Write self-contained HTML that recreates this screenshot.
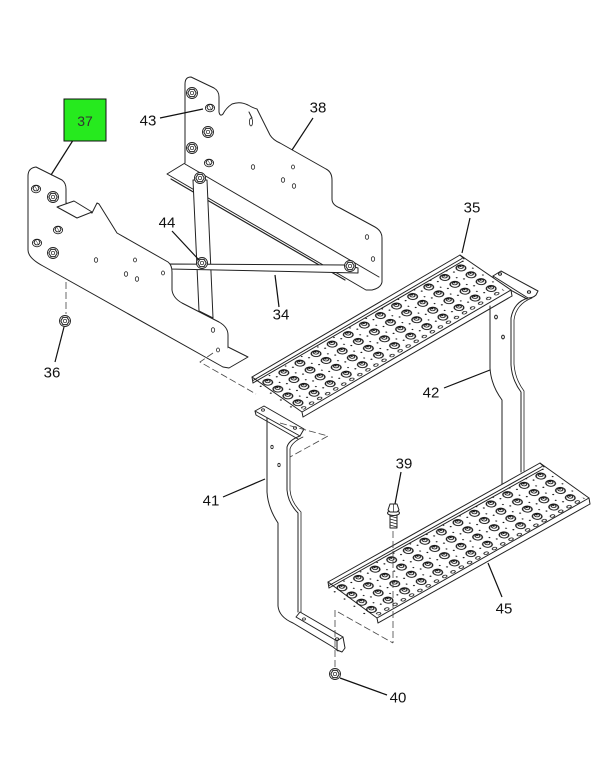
<!DOCTYPE html>
<html>
<head>
<meta charset="utf-8">
<style>
html,body{margin:0;padding:0;background:#fff;}
svg{display:block;}
text{font-family:"Liberation Sans",Arial,sans-serif;}
</style>
</head>
<body>
<svg width="610" height="761" viewBox="0 0 610 761" xmlns="http://www.w3.org/2000/svg">
<defs>
  <g id="nut">
    <circle r="5.5" fill="#fff" stroke="#222" stroke-width="0.9"/>
    <polygon points="-4.2,0 -2.1,-3.6 2.1,-3.6 4.2,0 2.1,3.6 -2.1,3.6" fill="none" stroke="#222" stroke-width="1"/>
    <circle r="1.7" fill="none" stroke="#222" stroke-width="0.7"/>
  </g>
  <g id="bolt">
    <ellipse rx="4.6" ry="3.8" fill="#fff" stroke="#222" stroke-width="0.9"/>
    <polygon points="-3,-0.5 -1.5,-3.5 1.5,-3.5 3,-0.5 1.5,1.8 -1.5,1.8" fill="#fff" stroke="#222" stroke-width="0.9"/>
    <line x1="-1.5" y1="-3.5" x2="1.5" y2="1.8" stroke="#222" stroke-width="0.5"/>
  </g>
  <pattern id="p1" patternUnits="userSpaceOnUse" x="-3.35" y="6.7" width="18.7" height="12.2">
    <circle cx="9.35" cy="6.1" r="4.0" fill="#fff" stroke="#111" stroke-width="1.15"/>
    <circle cx="10.2" cy="5.0" r="2.1" fill="#fff" stroke="#111" stroke-width="1.05"/>
    <circle cx="10.5" cy="4.3" r="1.0" fill="#111"/>
    <circle cx="1.2" cy="6.1" r="0.85" fill="#111"/>
    <circle cx="16.5" cy="0.8" r="0.75" fill="#111"/>
  </pattern>
  <pattern id="p2" patternUnits="userSpaceOnUse" x="-5.5" y="6.9" width="19" height="12.2">
    <circle cx="9.5" cy="6.1" r="4.0" fill="#fff" stroke="#111" stroke-width="1.15"/>
    <circle cx="10.35" cy="5.0" r="2.1" fill="#fff" stroke="#111" stroke-width="1.05"/>
    <circle cx="10.65" cy="4.3" r="1.0" fill="#111"/>
    <circle cx="1.2" cy="6.1" r="0.85" fill="#111"/>
    <circle cx="16.7" cy="0.8" r="0.75" fill="#111"/>
  </pattern>
  <pattern id="po" patternUnits="userSpaceOnUse" x="0" y="0" width="9.35" height="5">
    <ellipse cx="4.7" cy="2.5" rx="2.1" ry="1.5" fill="#fff" stroke="#111" stroke-width="0.9"/>
  </pattern>
  <pattern id="po2" patternUnits="userSpaceOnUse" x="0" y="0" width="9.5" height="5">
    <ellipse cx="4.75" cy="2.5" rx="2.1" ry="1.5" fill="#fff" stroke="#111" stroke-width="0.9"/>
  </pattern>
</defs>

<g fill="#fff" stroke="#222" stroke-width="1" stroke-linejoin="round" stroke-linecap="round">

<!-- Bracket 42 (behind steps) -->
<path d="M490,306 L490,368 Q491,385 502,400 L502,484" fill="none"/>
<path d="M528,298 Q514,302 511,318 L511,365 Q512,380 521,392 L521,472" fill="none"/>
<path d="M532,298 Q516,304 514,320 L514,364 Q515,379 524,391 L524,471" fill="none" stroke-width="0.8"/>
<path d="M493,276 L501,271 L538,291 L536,295 Q533,298 528,298 Z"/>
<line x1="493" y1="276" x2="494" y2="281"/>
<line x1="494" y1="281" x2="527" y2="299"/>
<ellipse cx="500" cy="274" rx="1.5" ry="1.2" fill="none"/>
<ellipse cx="529" cy="292" rx="1.6" ry="1.3" fill="none"/>
<ellipse cx="496" cy="317" rx="1.4" ry="1.9" fill="none"/>
<ellipse cx="503" cy="337" rx="1.4" ry="1.9" fill="none"/>

<!-- Bracket 38 -->
<path d="M185,163 L185,84 Q185,77 191,77 L214,88 Q219,91 219,97 L219,112 Q220,117 223,114 Q226,108 232,104 Q240,101 248,105 Q253,108 257,109 L270,135 Q273,140 280,143 L326,169 Q332,172 332,180 L332,199 Q332,205 340,208 L375,227 Q382,231 382,238 L382,282 Q381,288 372,290 L366,290 L167,174 L185,163 Z"/>
<line x1="185" y1="164" x2="379" y2="277"/>
<line x1="171" y1="179" x2="345" y2="280" stroke-width="1.2"/>
<path d="M249,112 L252,118" fill="none"/>
<ellipse cx="251" cy="122" rx="1.6" ry="4" fill="none" stroke-width="0.8"/>
<g fill="none" stroke-width="0.8">
<ellipse cx="253" cy="167" rx="1.7" ry="2.3"/>
<ellipse cx="293" cy="167" rx="1.5" ry="2"/>
<ellipse cx="283" cy="180" rx="1.7" ry="2.3"/>
<ellipse cx="294" cy="186" rx="1.7" ry="2.3"/>
<ellipse cx="367" cy="237" rx="1.7" ry="2.3"/>
<ellipse cx="373" cy="259" rx="1.7" ry="2.3"/>
</g>
<use href="#nut" x="192" y="93"/>
<use href="#bolt" x="210" y="108"/>
<use href="#nut" x="208" y="132"/>
<use href="#nut" x="192" y="148"/>
<use href="#bolt" x="209" y="163"/>

<!-- Tube and strap 34 -->
<polygon points="193,180 207,180 213,318 199,311"/>
<use href="#nut" x="200" y="178"/>
<polygon points="170,264 347,265 358,268 358,273 170,269"/>
<use href="#nut" x="202" y="263"/>
<use href="#nut" x="350" y="266"/>

<!-- Bracket 37 -->
<path d="M28,250 L28,176 Q28,168 36,167 L62,180 Q66,183 66,189 L66,203 L92,213 L97,203 L99,204 L117,233 L168,262 Q172,265 172,272 L172,290 Q173,298 182,303 L219,322 Q228,327 228,335 L228,366 L223,367 L43,266 Q28,258 28,250 Z"/>
<polygon points="57,207 74,201 92,212 77,218"/>
<polyline points="228,347 248,357 229,368 223,367" />
<g fill="none" stroke-width="0.8">
<ellipse cx="96" cy="260" rx="1.7" ry="2.3"/>
<ellipse cx="135" cy="260" rx="1.5" ry="2"/>
<ellipse cx="126" cy="274" rx="1.7" ry="2.3"/>
<ellipse cx="137" cy="279" rx="1.7" ry="2.3"/>
<ellipse cx="163" cy="273" rx="1.5" ry="2"/>
<ellipse cx="213" cy="330" rx="1.7" ry="2.3"/>
<ellipse cx="218" cy="350" rx="1.5" ry="2"/>
</g>
<use href="#bolt" x="36" y="189"/>
<use href="#nut" x="53" y="197"/>
<use href="#bolt" x="58" y="230"/>
<use href="#bolt" x="37" y="243"/>
<use href="#nut" x="53" y="253"/>

<!-- Step 35 -->
<polygon points="252,377 460,255 511,290 302,412"/>
<line x1="253" y1="380.5" x2="462" y2="258.5"/>
<line x1="253" y1="383" x2="463" y2="261"/>
<line x1="252" y1="377" x2="253" y2="383"/>
<line x1="460" y1="255" x2="464" y2="259"/>
<line x1="511" y1="290" x2="512" y2="296"/>
<line x1="302" y1="412" x2="303" y2="417"/>
<line x1="303" y1="417" x2="512" y2="296"/>
<g transform="matrix(0.861,-0.509,0.826,0.562,252,378)" stroke="none">
  <rect x="-3.35" y="6.7" width="243.1" height="48.8" fill="url(#p1)"/>
  <rect x="3" y="54.5" width="233.75" height="5" fill="url(#po)"/>
</g>

<!-- Bracket 41 -->
<path d="M267,418 L267,492 Q268,508 278,523 L278,606 Q279,617 293,623 L333,647 L338,651" fill="none"/>
<path d="M300,436 Q289,440 287,447 L287,490 Q288,503 298,513 L298,612" fill="none"/>
<path d="M303,437 Q292,442 290,449 L290,490 Q291,502 301,512 L301,613" fill="none" stroke-width="0.8"/>
<polygon points="255,411 264,406 304,429 300,436"/>
<polyline points="255,411 256,415 298,439" fill="none"/>
<ellipse cx="263" cy="410" rx="1.5" ry="1.2" fill="none" stroke-width="0.8"/>
<ellipse cx="295" cy="428" rx="1.6" ry="1.3" fill="none" stroke-width="0.8"/>
<ellipse cx="272" cy="447" rx="1.2" ry="1.7" fill="none" stroke-width="0.8"/>
<ellipse cx="279" cy="465" rx="1.2" ry="1.7" fill="none" stroke-width="0.8"/>
<polygon points="296,617 300,612 343,637 337,641"/>
<polyline points="337,641 337,650 342,652 345,648 343,637" fill="none"/>
<ellipse cx="337" cy="639" rx="1.6" ry="1.2" fill="none" stroke-width="0.8"/>
<ellipse cx="304" cy="619" rx="1.5" ry="1.1" fill="none" stroke-width="0.8"/>

<!-- Step 45 -->
<polygon points="328,582 540,463 589,498 377,618"/>
<line x1="329" y1="585.5" x2="542" y2="466.5"/>
<line x1="329" y1="588" x2="543" y2="469"/>
<line x1="328" y1="582" x2="329" y2="588"/>
<line x1="540" y1="463" x2="544" y2="467"/>
<line x1="589" y1="498" x2="590" y2="504"/>
<line x1="377" y1="618" x2="378" y2="623"/>
<line x1="378" y1="623" x2="590" y2="504"/>
<g transform="matrix(0.872,-0.490,0.806,0.592,328,582)" stroke="none">
  <rect x="-5.5" y="6.9" width="247" height="48.8" fill="url(#p2)"/>
  <rect x="3" y="54.8" width="237.5" height="5" fill="url(#po2)"/>
</g>

<!-- Bolt 39 -->
<rect x="390" y="513" width="7" height="15" />
<g stroke-width="0.7">
<line x1="390" y1="516" x2="397" y2="518"/>
<line x1="390" y1="519" x2="397" y2="521"/>
<line x1="390" y1="522" x2="397" y2="524"/>
<line x1="390" y1="525" x2="397" y2="527"/>
</g>
<ellipse cx="393.5" cy="513" rx="6" ry="2.5"/>
<polygon points="388,510 390,504 397,504 399,510 397,512 390,512"/>
<line x1="393.5" y1="504" x2="393.5" y2="512" stroke-width="0.7"/>

<!-- Nuts 36 and 40 -->
<use href="#nut" x="65" y="321"/>
<use href="#nut" x="335" y="674"/>
</g>

<!-- Dashed lines -->
<g fill="none" stroke="#444" stroke-width="0.8" stroke-dasharray="7,3">
<line x1="66" y1="282" x2="66" y2="314"/>
<polyline points="213,353 200,362 256,394"/>
<polyline points="280,423 328,436 290,457"/>
<line x1="335" y1="610" x2="335" y2="667"/>
<line x1="338" y1="612" x2="393" y2="643"/>
<line x1="393" y1="531" x2="393" y2="643"/>
</g>

<!-- Leaders -->
<g stroke="#111" stroke-width="1.2" fill="none">
<line x1="77" y1="134" x2="51" y2="175"/>
<line x1="160" y1="118" x2="203" y2="109"/>
<line x1="313" y1="118" x2="292" y2="150"/>
<line x1="172" y1="231" x2="199" y2="260"/>
<line x1="275" y1="275" x2="279" y2="307"/>
<line x1="55" y1="362" x2="64" y2="327"/>
<line x1="470" y1="218" x2="462" y2="253"/>
<line x1="444" y1="388" x2="490" y2="370"/>
<line x1="223" y1="497" x2="265" y2="479"/>
<line x1="401" y1="472" x2="395" y2="504"/>
<line x1="502" y1="597" x2="488" y2="563"/>
<line x1="340" y1="678" x2="387" y2="695"/>
</g>

<!-- Green box 37 -->
<rect x="64" y="99" width="42" height="42" fill="#26ea1e" stroke="#111" stroke-width="1"/>
<text x="85" y="126" font-size="14" fill="#333" text-anchor="middle">37</text>

<!-- Labels -->
<g font-size="15" fill="#111" text-anchor="middle">
<text x="148" y="125.5">43</text>
<text x="318" y="112.5">38</text>
<text x="167" y="227.5">44</text>
<text x="281" y="319.5">34</text>
<text x="52" y="377.5">36</text>
<text x="472" y="212.5">35</text>
<text x="431" y="397.5">42</text>
<text x="211" y="505.5">41</text>
<text x="404" y="468.5">39</text>
<text x="504" y="613.5">45</text>
<text x="398" y="702.5">40</text>
</g>
</svg>
</body>
</html>
